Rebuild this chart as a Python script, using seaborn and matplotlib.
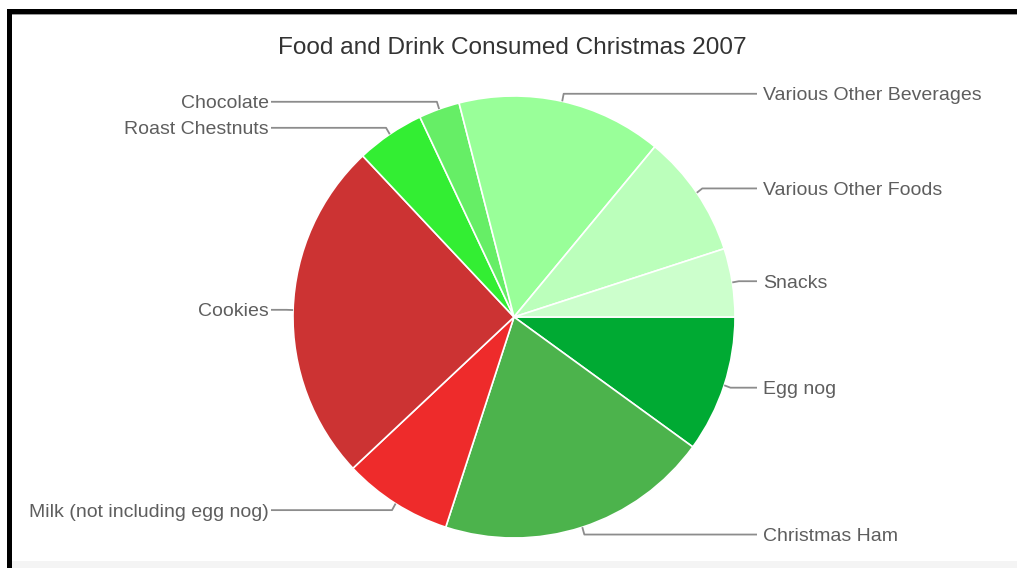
import numpy as np
import matplotlib
matplotlib.use("Agg")
import matplotlib.pyplot as plt
import seaborn as sns
from matplotlib.patches import Rectangle

# ---- data ----
title = "Food and Drink Consumed Christmas 2007"
categories = ["Egg nog", "Christmas Ham", "Milk (not including egg nog)", "Cookies",
              "Roast Chestnuts", "Chocolate", "Various Other Beverages",
              "Various Other Foods", "Snacks"]
values = [10, 20, 8, 25, 5, 3, 15, 9, 5]
colors = ["#00aa33", "#4cb34c", "#ee2b2b", "#cc3333", "#33ee33",
          "#66ee66", "#99ff99", "#bbffbb", "#ccffcc"]

sns.set_theme(style="white")
plt.rcParams['font.family'] = ['Liberation Sans', 'DejaVu Sans']

W, H = 1017, 568
fig = plt.figure(figsize=(W / 100, H / 100), dpi=100)
fig.patch.set_facecolor("white")
ax = fig.add_axes([0, 0, 1, 1])

cx, cy, r = 514, 317, 221
wedges, _ = ax.pie(values, colors=colors, startangle=0, counterclock=True,
                   center=(cx, cy), radius=r,
                   wedgeprops=dict(edgecolor="white", linewidth=1.2))
ax.set_xlim(0, W)
ax.set_ylim(H, 0)
ax.set_aspect("auto")
ax.axis("off")

line_col = "#8c8c8c"
text_col = "#5e5e5e"
for w, lab in zip(wedges, categories):
    th = np.deg2rad((w.theta1 + w.theta2) / 2)
    c, s = np.cos(th), np.sin(th)
    ax0 = (cx + r * c, cy + r * s)
    bend = (cx + 1.03 * r * c, cy + 1.035 * r * s)
    if c >= 0:
        xend = cx + r + 22
        ax.plot([ax0[0], bend[0], xend], [ax0[1], bend[1], bend[1]],
                color=line_col, lw=1.3, solid_capstyle="butt")
        ax.text(xend + 6, bend[1], lab, ha="left", va="center_baseline",
                fontsize=14, color=text_col)
    else:
        xend = cx - r - 22
        ax.plot([ax0[0], bend[0], xend], [ax0[1], bend[1], bend[1]],
                color=line_col, lw=1.3, solid_capstyle="butt")
        ax.text(xend - 2, bend[1], lab, ha="right", va="center_baseline",
                fontsize=14, color=text_col)

ax.text(512, 46, title, ha="center", va="center_baseline", fontsize=17.6, color="#333333")

# frame decoration
fig.patches.append(Rectangle((7 / W, 0), 5 / W, (H - 9) / H, transform=fig.transFigure,
                             facecolor="black", edgecolor="none", zorder=10))
fig.patches.append(Rectangle((7 / W, (H - 14) / H), (W - 7) / W, 5 / H,
                             transform=fig.transFigure, facecolor="black",
                             edgecolor="none", zorder=10))
fig.patches.append(Rectangle((12 / W, (H - 15) / H), (W - 12) / W, 1 / H,
                             transform=fig.transFigure, facecolor="#999999",
                             edgecolor="none", zorder=10))
fig.patches.append(Rectangle((12 / W, 0), (W - 12) / W, 7 / H,
                             transform=fig.transFigure, facecolor="#f4f4f4",
                             edgecolor="none", zorder=0))

fig.savefig("out.png", dpi=100)
